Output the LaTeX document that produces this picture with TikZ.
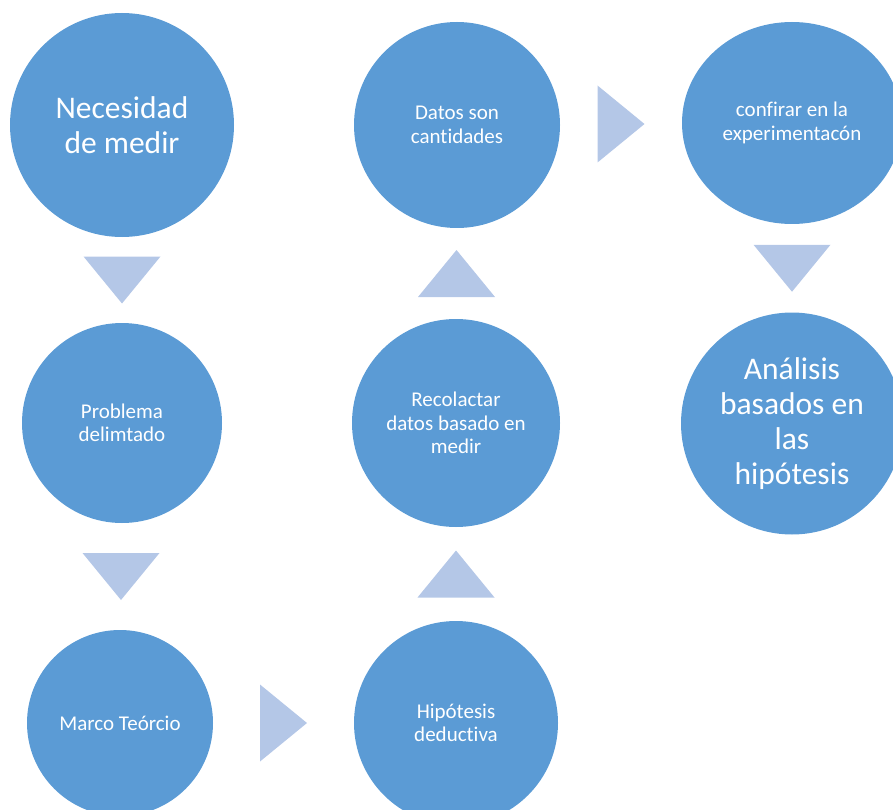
\documentclass[tikz,border=0pt]{standalone}
\usepackage{fontspec}
\setmainfont{Carlito}[Ligatures={NoCommon}]
\usepackage{xcolor}
\usetikzlibrary{calc,shapes.geometric}
\definecolor{bub}{HTML}{5B9BD5}
\definecolor{arr}{HTML}{B4C7E7}
\tikzset{
  bubble/.style={circle, fill=bub, inner sep=0pt, text=white, align=center},
  labbig/.style={font=\fontsize{31.5}{35}\selectfont},
  labsm/.style={font=\fontsize{21}{23.5}\selectfont},
  tri/.style={fill=arr},
  tridown/.pic={\fill[tri] (-38.5,-23.5) -- (38.5,-23.5) -- (0,23.5) -- cycle;},
  triup/.pic={\fill[tri] (-38.5,23.5) -- (38.5,23.5) -- (0,-23.5) -- cycle;},
  triright/.pic={\fill[tri] (-23.5,-38.5) -- (-23.5,38.5) -- (23.5,0) -- cycle;},
}
\begin{document}
\begin{tikzpicture}[x=1pt,y=-1pt]
  \useasboundingbox (0,0) rectangle (893,810);
  \clip (0,0) rectangle (893,810);
  % circles
  \node[bubble,labbig,minimum size=224pt] (nec) at (122,125) {Necesidad\\de medir};
  \node[bubble,labsm,minimum size=200pt] (prob) at (122,423) {Problema\\delimtado};
  \node[bubble,labsm,minimum size=186pt] (marco) at (120,723) {Marco Teórcio};
  \node[bubble,labsm,minimum size=204pt] (hip) at (456,723) {Hipótesis\\deductiva};
  \node[bubble,labsm,minimum size=208pt] (rec) at (456,423) {Recolactar\\datos basado en\\medir};
  \node[bubble,labsm,minimum size=206pt] (dat) at (457,125) {Datos son\\cantidades};
  \node[bubble,labsm,ellipse,minimum width=220pt,minimum height=202pt] (conf) at (792,123) {confirar en la\\experimentacón};
  \node[bubble,labbig,minimum size=222pt] (anal) at (792,423.5) {Análisis\\basados en\\las\\hipótesis};
  % triangles between the circles
  \pic at ($(nec.south)!0.5!(prob.north)$) {tridown};
  \pic at ($(prob.south)!0.5!(marco.north)$) {tridown};
  \pic at ($(marco.east)!0.5!(hip.west)$) {triright};
  \pic at ($(hip.north)!0.5!(rec.south)$) {triup};
  \pic at ($(rec.north)!0.5!(dat.south)$) {triup};
  \pic at ($(dat.east)!0.5!(conf.west)$) {triright};
  \pic at ($(conf.south)!0.5!(anal.north)$) {tridown};
\end{tikzpicture}
\end{document}
